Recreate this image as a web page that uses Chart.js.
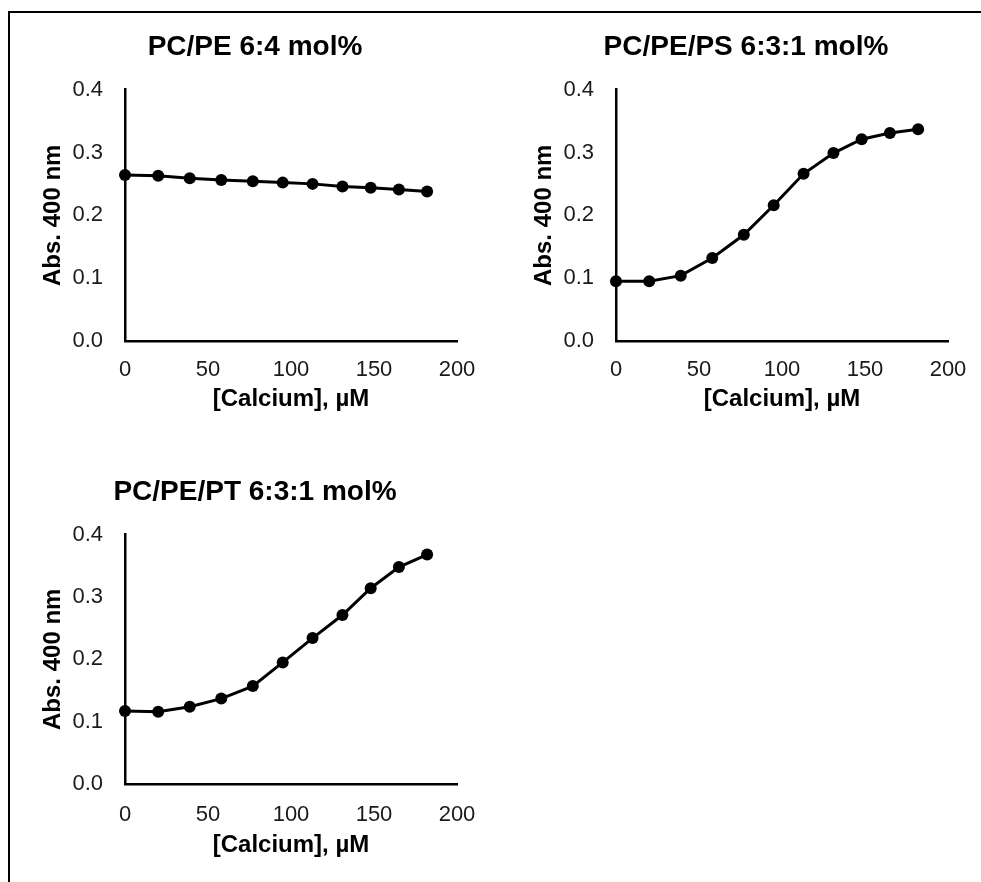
<!DOCTYPE html>
<html>
<head>
<meta charset="utf-8">
<script src="https://cdn.jsdelivr.net/npm/chart.js@4/dist/chart.umd.min.js"></script>
<style>
  html, body { margin: 0; padding: 0; background: #fff; }
  body { width: 981px; height: 882px; position: relative; overflow: hidden; }
  .frame {
    position: absolute; left: 8px; top: 11px; width: 1000px; height: 900px;
    border-top: 2px solid #000; border-left: 2px solid #000;
  }
  canvas { position: absolute; }
</style>
</head>
<body>
<div class="frame"></div>
<canvas id="chartPE" width="450" height="410" style="left:30px;top:14px"></canvas>
<canvas id="chartPS" width="450" height="410" style="left:521px;top:14px"></canvas>
<canvas id="chartPT" width="450" height="410" style="left:30px;top:459px"></canvas>

<script>
// ===== Datos =====
const calcium = [0, 20, 39, 58, 77, 95, 113, 131, 148, 165, 182];
const absPE = [0.264, 0.263, 0.259, 0.256, 0.254, 0.252, 0.250, 0.246, 0.244, 0.241, 0.238];
const absPS = [0.095, 0.095, 0.104, 0.132, 0.169, 0.216, 0.266, 0.299, 0.321, 0.331, 0.337];
const absPT = [0.117, 0.116, 0.124, 0.137, 0.157, 0.195, 0.234, 0.271, 0.314, 0.348, 0.368];

const xTicks = [0, 50, 100, 150, 200];
const yTicks = [0.0, 0.1, 0.2, 0.3, 0.4];

const FONT = "'Liberation Sans', Arial, Helvetica, sans-serif";

// ===== Helper: un panel =====
function buildPanel(id, title, values, xAxisHeight, xTickPad, xTitlePad) {
  const canvas = document.getElementById(id);
  return new Chart(canvas, {
    type: "line",
    data: {
      datasets: [{
        data: calcium.map((c, i) => ({ x: c, y: values[i] })),
        borderColor: "#000",
        backgroundColor: "#000",
        borderWidth: 3,
        pointRadius: 6,
        pointBorderWidth: 0,
        pointBackgroundColor: "#000",
        tension: 0,
        clip: false
      }]
    },
    options: {
      responsive: false,
      animation: false,
      layout: { padding: 0 },
      plugins: {
        legend: { display: false },
        tooltip: { enabled: false },
        title: {
          display: true,
          text: title,
          color: "#000",
          font: { family: FONT, size: 28, weight: "bold" },
          padding: { top: 16, bottom: 26 }
        }
      },
      scales: {
        x: {
          type: "linear",
          min: xTicks[0],
          max: xTicks[xTicks.length - 1],
          afterBuildTicks: (s) => { s.ticks = xTicks.map(v => ({ value: v })); },
          afterFit: (s) => {
            s.height = xAxisHeight;
            s.paddingLeft = 0;
            s.paddingRight = 23; // hueco a la derecha del eje
          },
          grid: { display: false, drawTicks: false },
          border: { display: true, color: "#000", width: 2.5 },
          ticks: {
            padding: xTickPad,
            color: "#1a1a1a",
            font: { family: FONT, size: 22 },
            maxRotation: 0
          },
          title: {
            display: true,
            text: "[Calcium], µM",
            color: "#000",
            font: { family: FONT, size: 24, weight: "bold" },
            padding: { top: 0, bottom: xTitlePad }
          }
        },
        y: {
          min: yTicks[0],
          max: yTicks[yTicks.length - 1],
          afterBuildTicks: (s) => { s.ticks = yTicks.map(v => ({ value: v })); },
          afterFit: (s) => { s.width = 95; },
          grid: { display: false, drawTicks: false },
          border: { display: true, color: "#000", width: 2.5 },
          ticks: {
            padding: 22,
            color: "#1a1a1a",
            font: { family: FONT, size: 22 },
            callback: (v) => Number(v).toFixed(1)
          },
          title: {
            display: true,
            text: "Abs. 400 nm",
            color: "#000",
            font: { family: FONT, size: 24, weight: "bold" },
            padding: { top: 9, bottom: 0 }
          }
        }
      }
    }
  });
}

buildPanel("chartPE", "PC/PE 6:4 mol%", absPE, 83, 16, 10.6);
buildPanel("chartPS", "PC/PE/PS 6:3:1 mol%", absPS, 83, 16, 10.6);
buildPanel("chartPT", "PC/PE/PT 6:3:1 mol%", absPT, 85, 18, 9.6);
</script>
</body>
</html>
